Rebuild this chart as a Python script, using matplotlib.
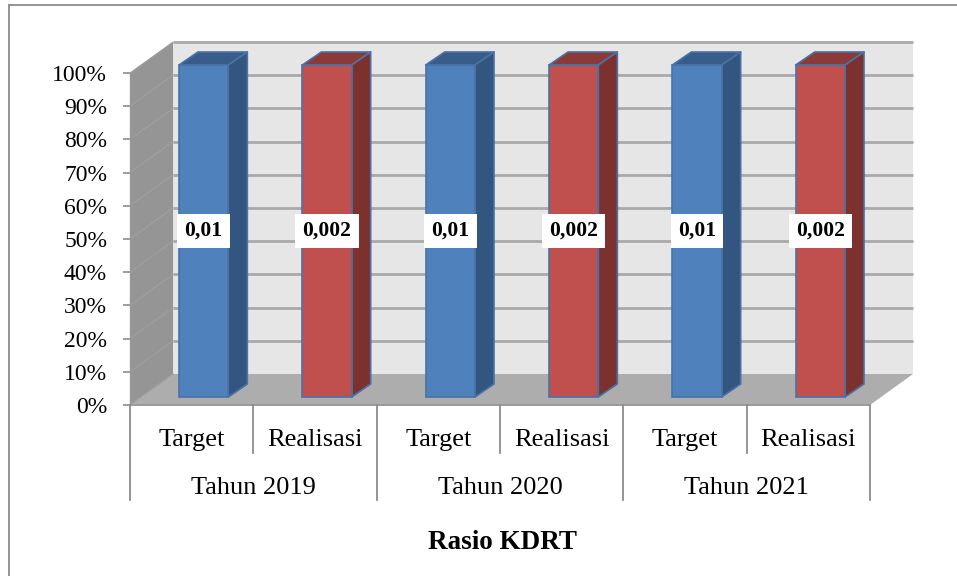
import matplotlib.pyplot as plt
from matplotlib.patches import Polygon
from matplotlib.ticker import FuncFormatter

plt.rcParams["font.family"] = ["Liberation Serif", "DejaVu Serif"]

years = ["Tahun 2019", "Tahun 2020", "Tahun 2021"]
series = ["Target", "Realisasi"]
target = [0.01, 0.01, 0.01]
realisasi = [0.002, 0.002, 0.002]
labels = ["0,01", "0,002"]
title = "Rasio KDRT"

W, H = 957, 576
# front plane of the plot box, in pixels
left, right, bottom, top = 130, 870, 405, 73

# depth of the 3d box and of a column, in data units
box_dx, box_dy = 43 / 123.3, 31 * 100 / 332
col_dx, col_dy = 19 / 123.3, 13 * 100 / 332
shift_dx, shift_dy = 12 / 123.3, 8 * 100 / 332
bar_w = 0.4

colors = {
    "Target": ("#4f81bd", "#385d8a", "#325680"),
    "Realisasi": ("#c0504d", "#8c3a38", "#7d312f"),
}

fig = plt.figure(figsize=(W / 100, H / 100), dpi=100)
ax = fig.add_axes([left / W, 1 - bottom / H, (right - left) / W, (bottom - top) / H])
ax.set_xlim(-0.5, 5.5)
ax.set_ylim(0, 100)
for s in ax.spines.values():
    s.set_visible(False)
ax.patch.set_visible(False)


def poly(pts, **kw):
    ax.add_patch(Polygon(pts, closed=True, clip_on=False, **kw))


# outer chart frame
fig.add_artist(plt.Line2D([9 / W, 9 / W], [0, 1 - 5 / H], color="#8c8c8c", lw=1.3))
fig.add_artist(plt.Line2D([9 / W, 1], [1 - 5 / H, 1 - 5 / H], color="#8c8c8c", lw=1.3))

# walls and floor
x0, x1 = -0.5, 5.5
poly([(x0 + box_dx, box_dy), (x1 + box_dx, box_dy), (x1 + box_dx, 100 + box_dy), (x0 + box_dx, 100 + box_dy)],
     fc="#e6e6e6", ec="none", zorder=1)
poly([(x0, 0), (x0 + box_dx, box_dy), (x0 + box_dx, 100 + box_dy), (x0, 100)],
     fc="#959595", ec="none", zorder=1)
poly([(x0, 0), (x1, 0), (x1 + box_dx, box_dy), (x0 + box_dx, box_dy)],
     fc="#adadad", ec="none", zorder=1)

# gridlines across side wall and back wall
yticks = list(range(0, 101, 10))
for y in yticks:
    if y > 0:
        ax.plot([x0 + box_dx, x1 + box_dx], [y + box_dy, y + box_dy], color="#a9a9a9", lw=2,
                solid_capstyle="butt", clip_on=False, zorder=2)
    ax.plot([x0, x0 + box_dx], [y, y + box_dy], color="#a0a0a0", lw=0.8, clip_on=False, zorder=2)

# columns: 100% stacked, so each share is the value over its stack total
xpos = 0
edge = "#4a72a6"
for i in range(len(years)):
    for name, vals, lab in zip(series, (target, realisasi), labels):
        face, topc, sidec = colors[name]
        share = vals[i] / vals[i] * 100
        xl = xpos - bar_w / 2 + shift_dx
        xr = xl + bar_w
        y0 = shift_dy
        y1 = share + shift_dy
        ax.bar(xl + bar_w / 2, y1 - y0, bar_w, bottom=y0, color=face, edgecolor=edge, lw=1.2,
               clip_on=False, zorder=4)
        poly([(xl, y1), (xr, y1), (xr + col_dx, y1 + col_dy), (xl + col_dx, y1 + col_dy)],
             fc=topc, ec=edge, lw=1.2, joinstyle="round", zorder=3)
        poly([(xr, y0), (xr + col_dx, y0 + col_dy), (xr + col_dx, y1 + col_dy), (xr, y1)],
             fc=sidec, ec=edge, lw=1.2, joinstyle="round", zorder=3)
        ax.text(xl + bar_w / 2, y0 + share / 2, lab, ha="center", va="center", fontsize=15.6,
                fontweight="bold", zorder=6,
                bbox=dict(fc="white", ec="none", boxstyle="square,pad=0.33"))
        xpos += 1

# value axis
ax.set_yticks(yticks)
ax.yaxis.set_major_formatter(FuncFormatter(lambda v, _: f"{v:.0f}%"))
ax.tick_params(axis="y", length=5, width=1.2, color="#8c8c8c", labelsize=17, pad=11.5)
ax.set_xticks([])
ax.plot([x0, x0], [0, 100], color="#999999", lw=1, clip_on=False, zorder=2)
ax.plot([x0, x1], [0, 0], color="#9a9a9a", lw=1.4, clip_on=False, zorder=2)

# two level category axis below the box
trans = ax.get_xaxis_transform()
level1, level2 = -0.1446, -0.286
for k in range(7):
    lo = level2 if k % 2 == 0 else level1
    ax.plot([k - 0.5, k - 0.5], [0, lo], color="#8c8c8c", lw=1.3, transform=trans, clip_on=False)
xpos = 0
for i, year in enumerate(years):
    for name in series:
        ax.text(xpos, -0.105, name, transform=trans, ha="center", va="center", fontsize=19)
        xpos += 1
    ax.text(2 * i + 0.5, -0.25, year, transform=trans, ha="center", va="center", fontsize=19)

ax.text(2.52, -0.413, title, transform=trans, ha="center", va="center", fontsize=19.5,
        fontweight="bold", stretch="condensed")

fig.savefig("out.png", dpi=100)
